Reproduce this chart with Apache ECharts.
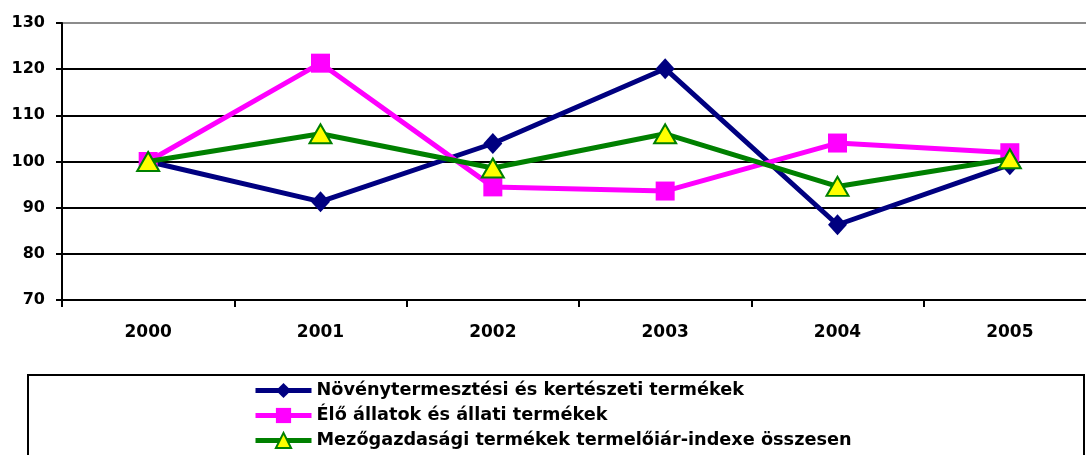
<!DOCTYPE html>
<html><head><meta charset="utf-8">
<script src="https://cdn.jsdelivr.net/npm/echarts@6/dist/echarts.min.js"></script>
<style>html,body{margin:0;padding:0;background:#fff;overflow:hidden;width:1086px;height:455px}#c{width:1096px;height:455px}</style>
</head><body><div id="c"></div>
<script>
const categories = ['2000','2001','2002','2003','2004','2005'];
const seriesNames = ['Növénytermesztési és kertészeti termékek','Élő állatok és állati termékek','Mezőgazdasági termékek termelőiár-indexe összesen'];
const plantValues = [100, 91.3, 103.9, 120.1, 86.3, 99.3];
const animalValues = [100, 121.3, 94.5, 93.6, 104.0, 101.9];
const totalValues = [100, 106.0, 98.6, 106.0, 94.6, 100.6];
const yTicks = [70, 80, 90, 100, 110, 120, 130];

const FONT = 'DejaVu Sans';
const chart = echarts.init(document.getElementById('c'), null, {renderer:'canvas'});
chart.setOption({
  animation:false,
  backgroundColor:'#fff',
  grid:{left:62, top:23, right:0, bottom:155, containLabel:false},
  xAxis:{type:'category', data:categories, boundaryGap:true,
    axisLine:{lineStyle:{color:'#000', width:2}},
    axisTick:{show:true, length:7, inside:false, lineStyle:{color:'#000', width:2}, alignWithLabel:false},
    axisLabel:{color:'#000', fontFamily:FONT, fontWeight:'bold', fontSize:17, margin:24},
    splitLine:{show:false}},
  yAxis:{type:'value', min:yTicks[0], max:yTicks[yTicks.length-1], interval:10,
    axisLine:{show:true, lineStyle:{color:'#000', width:2}},
    axisTick:{show:true, length:6, lineStyle:{color:'#000', width:2}},
    axisLabel:{color:'#000', fontFamily:FONT, fontWeight:'bold', fontSize:16, margin:17},
    splitLine:{show:true, lineStyle:{color:['#000','#000','#000','#000','#000','#000','#8c8c8c'], width:2}}},
  legend:{orient:'vertical', left:253, top:380, padding:0, itemWidth:56, itemHeight:19, itemGap:4,
    lineStyle:{width:5},
    textStyle:{color:'#000', fontFamily:FONT, fontWeight:'bold', fontSize:17.7, lineHeight:21},
    data:seriesNames},
  graphic:[{type:'rect', shape:{x:28, y:375, width:1056, height:120}, style:{fill:'none', stroke:'#000', lineWidth:2}, z:-1}],
  series:[
    {name:seriesNames[0], type:'line', data:plantValues, symbol:'diamond', symbolSize:[19,21],
      lineStyle:{color:'#000080', width:5}, itemStyle:{color:'#000080'}, z:2},
    {name:seriesNames[1], type:'line', data:animalValues, symbol:'rect', symbolSize:19,
      lineStyle:{color:'#ff00ff', width:5}, itemStyle:{color:'#ff00ff'}, z:3},
    {name:seriesNames[2], type:'line', data:totalValues, symbol:'triangle', symbolSize:[22,19],
      lineStyle:{color:'#008000', width:5}, itemStyle:{color:'#ffff00', borderColor:'#008000', borderWidth:2}, z:4}
  ]
});
</script></body></html>
